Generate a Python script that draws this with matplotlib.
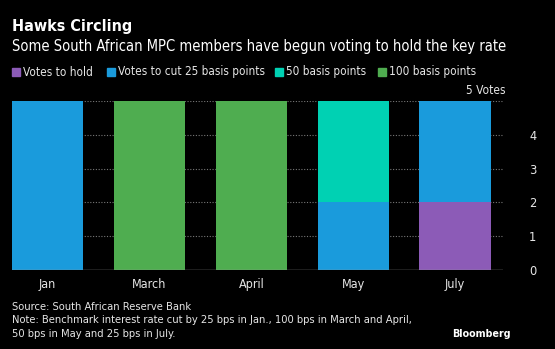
import matplotlib.pyplot as plt
import numpy as np

months = ["Jan", "March", "April", "May", "July"]
hold = [0, 0, 0, 0, 2]
cut25 = [5, 0, 0, 2, 3]
cut50 = [0, 0, 0, 3, 0]
cut100 = [0, 5, 5, 0, 0]
yticks = [0, 1, 2, 3, 4]

C_HOLD, C_25, C_50, C_100 = "#8c5bb7", "#1a9bdc", "#00d1b3", "#4fad50"
BG, FG = "black", "#e6e6e6"

plt.rcParams["font.family"] = ["DejaVu Sans"]
plt.rcParams["font.stretch"] = "condensed"

fig = plt.figure(figsize=(5.55, 3.49), dpi=100, facecolor=BG)
W, H = 555, 349
ax = fig.add_axes([12 / W, 1 - 270 / H, (503 - 12) / W, (270 - 101) / H])
ax.set_facecolor(BG)

x = np.arange(len(months))
bw = 0.7
bottom = np.zeros(len(months))
for vals, col in [(hold, C_HOLD), (cut25, C_25), (cut50, C_50), (cut100, C_100)]:
    ax.bar(x, vals, bw, bottom=bottom, color=col, zorder=2)
    bottom += np.array(vals)

ax.set_xlim(-0.35, 4.47)
ax.set_ylim(0, 5)
for yv in range(1, 6):
    ax.axhline(yv, color="#777777", lw=0.8, ls=(0, (1, 1.5)), zorder=1)
ax.axhline(0, color="#999999", lw=1, zorder=3)

ax.yaxis.tick_right()
ax.set_yticks(yticks)
ax.set_yticklabels([str(v) for v in yticks])
ax.tick_params(axis="y", length=0, pad=24, labelsize=9.2, labelcolor=FG)
for lab in ax.get_yticklabels():
    lab.set_horizontalalignment("right")
ax.set_xticks(x)
ax.set_xticklabels(months)
ax.tick_params(axis="x", length=0, pad=6, labelsize=9, labelcolor=FG)
for s in ax.spines.values():
    s.set_visible(False)

fig.text(12 / W, 1 - 27 / H, "Hawks Circling", color="white", fontsize=11.5,
         fontweight="bold", va="center", ha="left")
fig.text(12 / W, 1 - 47 / H, "Some South African MPC members have begun voting to hold the key rate",
         color="white", fontsize=10.5, va="center", ha="left")

# legend
items = [("Votes to hold", C_HOLD, 12), ("Votes to cut 25 basis points", C_25, 107),
         ("50 basis points", C_50, 275), ("100 basis points", C_100, 378)]
for label, col, px in items:
    fig.patches.append(plt.Rectangle((px / W, 1 - 76 / H), 8 / W, 8 / H,
                                     transform=fig.transFigure, color=col))
    fig.text((px + 11) / W, 1 - 72 / H, label, color=FG, fontsize=8.5,
             va="center", ha="left")

fig.text(505 / W, 1 - 90 / H, "5 Votes", color=FG, fontsize=8.6, va="center", ha="right")

fig.text(12 / W, 1 - 307 / H, "Source: South African Reserve Bank", color=FG,
         fontsize=8, va="center", ha="left")
fig.text(12 / W, 1 - 320 / H,
         "Note: Benchmark interest rate cut by 25 bps in Jan., 100 bps in March and April,",
         color=FG, fontsize=8, va="center", ha="left")
fig.text(12 / W, 1 - 334 / H, "50 bps in May and 25 bps in July.", color=FG,
         fontsize=8, va="center", ha="left")
fig.text(511 / W, 1 - 334 / H, "Bloomberg", color="white", fontsize=6.9,
         fontweight="bold", fontstretch="normal", va="center", ha="right")

fig.savefig("out.png", dpi=100, facecolor=BG)
